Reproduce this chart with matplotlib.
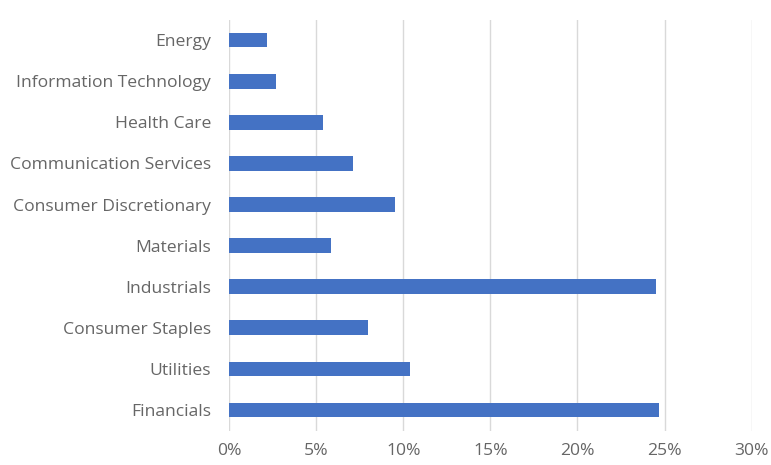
import matplotlib
matplotlib.use('Agg')
from matplotlib import pyplot as plt
from matplotlib.ticker import FuncFormatter

sectors = ['Energy', 'Information Technology', 'Health Care', 'Communication Services',
           'Consumer Discretionary', 'Materials', 'Industrials', 'Consumer Staples',
           'Utilities', 'Financials']
weights = [2.2, 2.7, 5.4, 7.1, 9.5, 5.85, 24.5, 8.0, 10.4, 24.7]
x_ticks = [0, 5, 10, 15, 20, 25, 30]

plt.rcParams['font.family'] = ['Open Sans', 'DejaVu Sans']

fig = plt.figure(figsize=(7.71, 4.65), dpi=100)
ax = fig.add_axes([0.297, 0.074, 0.678, 0.884])

pos = list(range(len(sectors)))
ax.barh(pos, weights, height=0.36, color='#4472C4', zorder=3)
ax.set_ylim(len(sectors) - 0.5, -0.5)
ax.set_yticks(pos)
ax.set_yticklabels(sectors)

ax.set_xlim(0, 30)
ax.set_xticks(x_ticks)
ax.xaxis.set_major_formatter(FuncFormatter(lambda v, _: '{:.0f}%'.format(v)))
ax.grid(axis='x', color='#d9d9d9', linewidth=1, zorder=0)

for s in ax.spines.values():
    s.set_visible(False)
ax.tick_params(length=0, labelsize=12.6, colors='#666666')
ax.tick_params(axis='x', pad=9)
ax.tick_params(axis='y', pad=13)

fig.savefig('out.png')
